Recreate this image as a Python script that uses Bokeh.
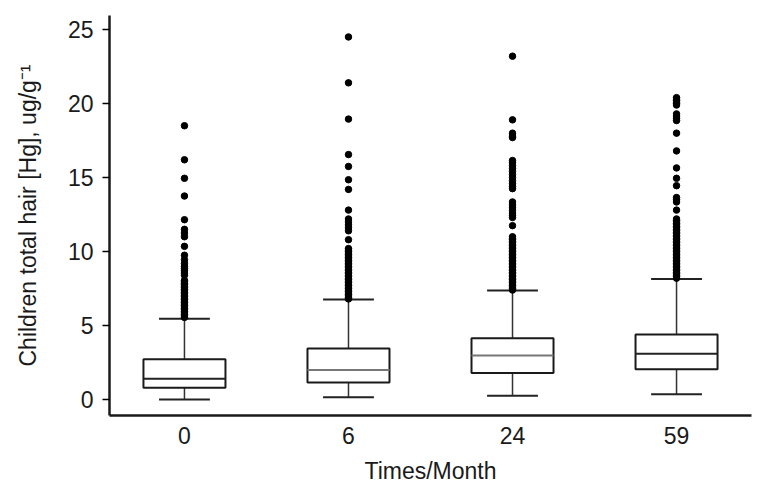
from bokeh.plotting import figure
from bokeh.models import FixedTicker, Range1d
from bokeh.embed import file_html
from bokeh.resources import INLINE

# ---- data ----
categories = ["0", "6", "24", "59"]
positions = [1, 2, 3, 4]
whisker_low = [0.0, 0.16, 0.25, 0.36]
q1 = [0.79, 1.15, 1.80, 2.05]
median = [1.40, 2.00, 2.97, 3.09]
q3 = [2.72, 3.45, 4.14, 4.39]
whisker_high = [5.45, 6.76, 7.36, 8.15]
median_colors = ["#222222", "#777777", "#777777", "#222222"]

outliers_0 = [18.5, 16.2, 14.95, 13.75, 12.15, 11.5, 11.25, 11.0, 10.35, 9.75,
              9.45, 9.2, 9.0, 8.85, 8.7, 8.55, 8.4, 8.05, 7.95, 7.85, 7.75, 7.65,
              7.55, 7.45, 7.35, 7.25, 7.15, 7.05, 6.95, 6.85, 6.75, 6.65, 6.55,
              6.45, 6.35, 6.25, 6.15, 6.05, 5.95, 5.85, 5.75, 5.65, 5.55]
outliers_6 = [24.5, 21.4, 18.95, 16.55, 15.75, 14.85, 14.2, 12.8, 12.2, 12.0,
              11.8, 11.6, 11.4, 10.8, 10.2, 10.1, 10.0, 9.9, 9.8, 9.7, 9.6, 9.5,
              9.4, 9.3, 9.2, 9.1, 9.0, 8.9, 8.8, 8.7, 8.6, 8.5, 8.4, 8.3, 8.2, 8.1,
              8.0, 7.9, 7.8, 7.7, 7.6, 7.5, 7.4, 7.3, 7.2, 7.1, 7.0, 6.9, 6.8]
outliers_24 = [23.2, 18.9, 18.0, 17.8, 17.7, 16.15, 16.0, 15.8, 15.6, 15.4, 15.2,
               15.0, 14.8, 14.6, 14.4, 14.25, 13.35, 13.15, 13.0, 12.8, 12.6,
               12.45, 12.3, 11.75, 11.0, 10.9, 10.8, 10.7, 10.6, 10.5, 10.4, 10.3,
               10.2, 10.1, 10.0, 9.9, 9.8, 9.7, 9.6, 9.5, 9.4, 9.3, 9.2, 9.1, 9.0,
               8.9, 8.8, 8.7, 8.6, 8.5, 8.4, 8.3, 8.2, 8.1, 8.0, 7.9, 7.8, 7.7,
               7.6, 7.5, 7.4]
outliers_59 = [20.4, 20.3, 20.2, 20.1, 20.0, 19.9, 19.3, 19.15, 19.0, 18.85, 18.0,
               16.8, 15.65, 14.95, 14.45, 13.65, 13.5, 13.35, 12.8, 12.2, 12.1,
               12.0, 11.9, 11.8, 11.7, 11.6, 11.5, 11.4, 11.3, 11.2, 11.1, 11.0,
               10.9, 10.8, 10.7, 10.6, 10.5, 10.4, 10.3, 10.2, 10.1, 10.0, 9.9,
               9.8, 9.7, 9.6, 9.5, 9.4, 9.3, 9.2, 9.1, 9.0, 8.9, 8.8, 8.7, 8.6,
               8.5, 8.4, 8.3, 8.2]
outliers = [outliers_0, outliers_6, outliers_24, outliers_59]

y_ticks = [0, 5, 10, 15, 20, 25]

# ---- figure ----
FONT = "Liberation Sans"
p = figure(width=758, height=490, output_backend="svg", toolbar_location=None,
           x_range=Range1d(0.543, 4.457), y_range=Range1d(-1.08, 25.95),
           min_border_left=109, min_border_right=7, min_border_top=15,
           min_border_bottom=75)
p.outline_line_color = None
p.grid.grid_line_color = None
p.background_fill_color = "white"

box_w = 0.5
cap_w = 0.31

# whisker stems
p.segment(x0=positions, y0=q3, x1=positions, y1=whisker_high, line_color="#333333", line_width=1.5)
p.segment(x0=positions, y0=whisker_low, x1=positions, y1=q1, line_color="#333333", line_width=1.5)
# caps
p.segment(x0=[x - cap_w / 2 for x in positions], y0=whisker_high,
          x1=[x + cap_w / 2 for x in positions], y1=whisker_high, line_color="#222222", line_width=2)
p.segment(x0=[x - cap_w / 2 for x in positions], y0=whisker_low,
          x1=[x + cap_w / 2 for x in positions], y1=whisker_low, line_color="#222222", line_width=2)
# boxes
p.quad(left=[x - box_w / 2 for x in positions], right=[x + box_w / 2 for x in positions],
       bottom=q1, top=q3, fill_color="white", line_color="#1a1a1a", line_width=2)
# medians
p.segment(x0=[x - box_w / 2 for x in positions], y0=median,
          x1=[x + box_w / 2 for x in positions], y1=median, line_color=median_colors, line_width=2)
# outliers
for pos, vals in zip(positions, outliers):
    p.scatter(x=[pos] * len(vals), y=vals, size=6.5, marker="circle",
              fill_color="black", line_color="black")

# axes
p.xaxis.ticker = FixedTicker(ticks=positions)
p.xaxis.major_label_overrides = {pos: c for pos, c in zip(positions, categories)}
p.xaxis.major_tick_line_color = None
p.xaxis.minor_tick_line_color = None
p.xaxis.major_tick_out = 0
p.xaxis.major_label_standoff = 11
p.xaxis.axis_label = "Times/Month"
p.xaxis.axis_label_standoff = 11

p.yaxis.ticker = FixedTicker(ticks=y_ticks)
p.yaxis.minor_tick_line_color = None
p.yaxis.major_tick_out = 7
p.yaxis.major_tick_in = 0
p.yaxis.major_tick_line_width = 1.5
p.yaxis.major_label_standoff = 9
p.yaxis.axis_label = "Children total hair [Hg], ug/g\u207b\u00b9"
p.yaxis.axis_label_standoff = 24

for ax in (p.xaxis, p.yaxis):
    ax.axis_line_width = 2.5
    ax.axis_line_color = "#1a1a1a"
    ax.major_label_text_font = FONT
    ax.major_label_text_font_size = "23px"
    ax.major_label_text_color = "#1a1a1a"
    ax.axis_label_text_font = FONT
    ax.axis_label_text_font_size = "23px"
    ax.axis_label_text_font_style = "normal"
    ax.axis_label_text_color = "#1a1a1a"

open("out.html", "w").write(file_html(p, INLINE))
